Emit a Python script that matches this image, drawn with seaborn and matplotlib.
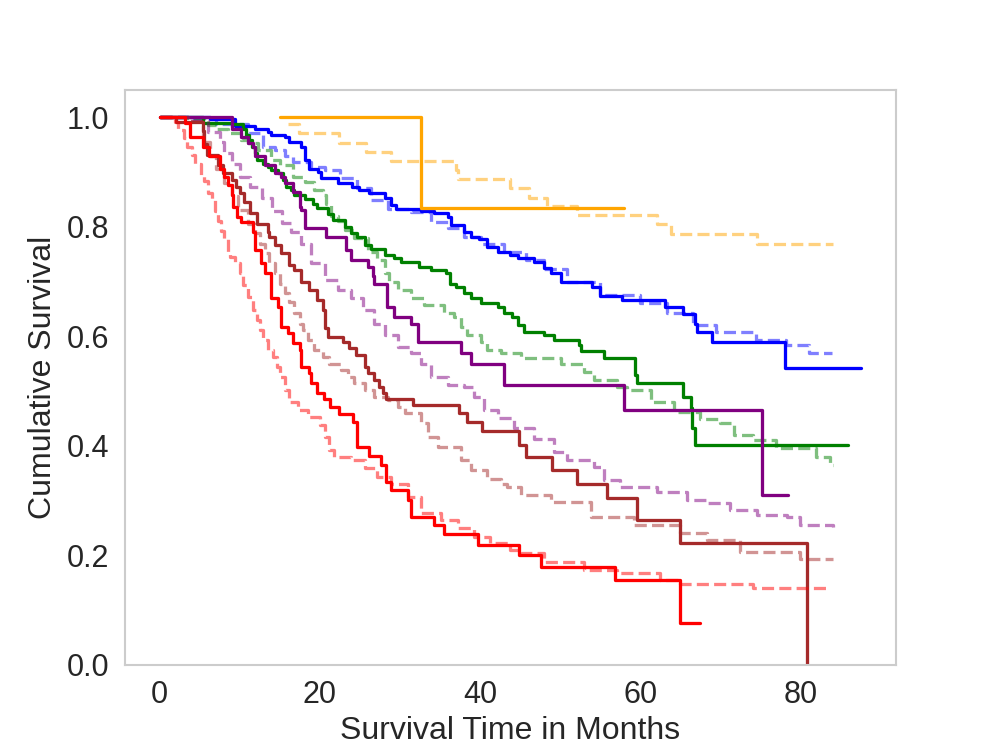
import matplotlib
matplotlib.use("Agg")
import matplotlib.pyplot as plt
import seaborn as sns

# survival curves: (time in months, cumulative survival)
blue_t = [0, 6.3, 9.4, 11.9, 13.5, 13.9, 15.6, 16.2, 17.7, 18.1, 18.7, 19.8, 20.2, 22.3, 24.0, 24.9, 26.2,
          28.1, 28.9, 29.5, 32.6, 34.3, 36.0, 36.4, 38.0, 38.9, 39.9, 40.9, 42.2, 43.8, 44.7, 46.7, 48.0,
          48.8, 50.1, 54.0, 55.0, 57.7, 63.1, 65.4, 66.9, 67.1, 69.0, 78.1, 87.6]
blue_s = [1.0, 0.996, 0.984, 0.979, 0.973, 0.967, 0.964, 0.955, 0.946, 0.921, 0.906, 0.900, 0.888, 0.880,
          0.873, 0.867, 0.861, 0.852, 0.839, 0.833, 0.829, 0.824, 0.818, 0.803, 0.791, 0.781, 0.777, 0.763,
          0.754, 0.748, 0.742, 0.736, 0.724, 0.716, 0.698, 0.689, 0.673, 0.666, 0.654, 0.640, 0.623, 0.608,
          0.590, 0.541, 0.541]
blue_ref_t = [0, 3.6, 7.0, 11.0, 12.9, 14.4, 15.6, 16.6, 18.9, 20.6, 22.5, 24.7, 26.4, 28.5, 31.4, 33.9,
              36.0, 38.0, 40.1, 43.0, 45.7, 48.0, 50.9, 55.0, 60.0, 63.3, 66.6, 69.5, 74.5, 78.2, 81.1, 84.0]
blue_ref_s = [1.0, 0.996, 0.987, 0.970, 0.946, 0.940, 0.928, 0.918, 0.909, 0.903, 0.888, 0.870, 0.848,
              0.833, 0.827, 0.809, 0.797, 0.781, 0.769, 0.754, 0.739, 0.722, 0.699, 0.675, 0.660, 0.642,
              0.620, 0.608, 0.593, 0.584, 0.569, 0.569]

green_t = [0, 5.4, 9.0, 10.4, 10.8, 11.2, 11.5, 11.9, 12.1, 12.9, 13.5, 13.9, 14.8, 15.4, 15.8, 16.4, 16.8,
           18.1, 19.1, 19.6, 21.0, 21.6, 23.1, 23.9, 24.7, 25.6, 26.4, 28.1, 29.3, 30.1, 32.4, 33.9, 35.7,
           36.2, 37.0, 38.0, 38.9, 40.1, 42.2, 43.0, 44.0, 44.7, 45.5, 48.0, 49.2, 52.3, 52.6, 55.5, 59.4,
           59.6, 65.4, 66.3, 66.5, 66.9, 86.0]
green_s = [1.0, 0.990, 0.988, 0.979, 0.967, 0.958, 0.946, 0.934, 0.921, 0.915, 0.909, 0.903, 0.897, 0.885,
           0.873, 0.867, 0.858, 0.850, 0.842, 0.834, 0.823, 0.812, 0.800, 0.788, 0.781, 0.766, 0.760, 0.748,
           0.742, 0.736, 0.727, 0.721, 0.715, 0.696, 0.690, 0.678, 0.669, 0.660, 0.654, 0.642, 0.635, 0.620,
           0.608, 0.602, 0.593, 0.584, 0.572, 0.560, 0.529, 0.514, 0.489, 0.468, 0.432, 0.401, 0.401]
green_ref_t = [0, 3.6, 6.1, 7.1, 8.6, 10.2, 11.0, 12.3, 13.9, 15.0, 16.6, 18.1, 19.3, 20.4, 20.8, 21.4,
               22.3, 23.1, 24.3, 26.0, 27.2, 28.1, 28.7, 29.7, 31.4, 33.0, 35.5, 36.8, 37.6, 38.4, 40.1,
               40.9, 42.6, 45.1, 50.1, 53.0, 54.2, 57.1, 58.4, 61.3, 64.2, 67.5, 70.0, 71.7, 74.1, 77.0,
               82.0, 83.7, 84.1]
green_ref_s = [1.0, 0.998, 0.985, 0.979, 0.970, 0.958, 0.952, 0.940, 0.921, 0.912, 0.891, 0.882, 0.867,
               0.858, 0.842, 0.820, 0.810, 0.794, 0.779, 0.754, 0.739, 0.715, 0.699, 0.684, 0.669, 0.657,
               0.642, 0.635, 0.617, 0.602, 0.590, 0.575, 0.569, 0.560, 0.550, 0.535, 0.520, 0.508, 0.502,
               0.480, 0.462, 0.448, 0.441, 0.419, 0.410, 0.395, 0.380, 0.365, 0.365]

purple_t = [0, 9.0, 10.2, 11.0, 11.7, 11.9, 13.1, 14.4, 15.2, 15.6, 16.6, 17.5, 17.7, 18.1, 20.8, 23.3,
            23.9, 26.0, 26.6, 26.8, 28.4, 29.3, 31.4, 32.3, 37.6, 38.9, 43.0, 58.0, 75.2, 78.5]
purple_s = [1.0, 0.979, 0.964, 0.952, 0.946, 0.928, 0.912, 0.897, 0.891, 0.879, 0.864, 0.836, 0.830, 0.797,
            0.781, 0.757, 0.739, 0.727, 0.709, 0.696, 0.654, 0.635, 0.623, 0.590, 0.569, 0.550, 0.511, 0.465,
            0.310, 0.310]
purple_ref_t = [0, 3.6, 6.1, 7.5, 8.1, 9.0, 10.1, 11.3, 12.8, 14.0, 15.3, 16.4, 17.7, 18.9, 20.6, 22.3,
                23.9, 25.4, 26.8, 28.1, 29.7, 31.4, 32.6, 33.9, 36.0, 38.0, 39.3, 40.5, 42.2, 44.2, 46.7,
                49.2, 50.9, 54.2, 55.5, 57.5, 62.1, 65.8, 68.3, 71.2, 74.6, 78.3, 79.9, 84.1]
purple_ref_s = [1.0, 0.992, 0.973, 0.955, 0.934, 0.915, 0.891, 0.872, 0.852, 0.829, 0.806, 0.791, 0.769,
                0.733, 0.702, 0.685, 0.670, 0.648, 0.623, 0.602, 0.581, 0.569, 0.550, 0.526, 0.511, 0.508,
                0.489, 0.465, 0.450, 0.432, 0.413, 0.389, 0.374, 0.362, 0.337, 0.325, 0.316, 0.301, 0.295,
                0.283, 0.273, 0.270, 0.255, 0.252]

brown_t = [0, 2.1, 5.4, 5.6, 5.9, 7.3, 7.9, 9.0, 9.6, 10.0, 10.6, 11.3, 12.2, 13.5, 13.7, 14.4, 15.2, 16.2,
           16.8, 17.7, 18.7, 19.6, 20.4, 20.6, 21.0, 22.9, 23.7, 24.5, 25.6, 26.0, 26.8, 27.4, 27.9, 28.3,
           31.6, 37.4, 38.4, 40.3, 44.9, 45.7, 49.0, 52.1, 55.9, 59.6, 65.0, 80.8]
brown_s = [1.0, 0.991, 0.975, 0.950, 0.931, 0.912, 0.897, 0.885, 0.873, 0.861, 0.845, 0.825, 0.805, 0.790,
           0.781, 0.766, 0.751, 0.730, 0.721, 0.699, 0.684, 0.666, 0.648, 0.614, 0.599, 0.590, 0.578, 0.566,
           0.544, 0.532, 0.520, 0.508, 0.496, 0.486, 0.474, 0.459, 0.444, 0.426, 0.401, 0.380, 0.356, 0.331,
           0.304, 0.264, 0.222, 0.0]
brown_ref_t = [0, 3.6, 5.4, 6.3, 7.1, 8.1, 9.0, 9.8, 11.0, 11.9, 12.5, 13.1, 13.7, 14.4, 15.0, 15.6, 16.2,
               16.8, 17.5, 17.9, 18.5, 19.3, 20.4, 21.2, 22.7, 23.5, 24.3, 25.6, 26.8, 28.5, 29.7, 30.6,
               32.6, 33.5, 34.7, 37.6, 38.9, 40.9, 42.6, 43.4, 45.1, 48.8, 53.8, 59.2, 65.0, 68.3, 72.5,
               79.9, 84.1]
brown_ref_s = [1.0, 0.992, 0.955, 0.928, 0.906, 0.879, 0.855, 0.830, 0.805, 0.788, 0.769, 0.751, 0.733,
               0.715, 0.696, 0.678, 0.663, 0.642, 0.623, 0.611, 0.593, 0.575, 0.562, 0.550, 0.538, 0.526,
               0.514, 0.502, 0.489, 0.483, 0.471, 0.459, 0.441, 0.416, 0.398, 0.374, 0.356, 0.340, 0.331,
               0.325, 0.310, 0.298, 0.270, 0.255, 0.240, 0.228, 0.206, 0.194, 0.194]

red_t = [0, 3.2, 3.8, 5.4, 6.2, 7.6, 8.0, 8.5, 9.0, 9.2, 9.7, 10.2, 11.7, 11.9, 12.7, 13.1, 13.9, 14.8,
         15.2, 16.0, 16.6, 17.5, 17.7, 18.7, 18.9, 19.6, 20.5, 21.3, 22.4, 24.1, 24.7, 26.2, 27.6, 28.3,
         28.9, 31.0, 31.4, 34.3, 35.5, 39.7, 44.9, 47.6, 56.9, 65.0, 67.5]
red_s = [1.0, 0.990, 0.964, 0.945, 0.928, 0.905, 0.891, 0.876, 0.858, 0.835, 0.818, 0.809, 0.791, 0.757,
         0.733, 0.715, 0.669, 0.654, 0.617, 0.605, 0.587, 0.575, 0.544, 0.532, 0.514, 0.496, 0.485, 0.471,
         0.457, 0.444, 0.398, 0.381, 0.365, 0.334, 0.319, 0.301, 0.270, 0.255, 0.238, 0.219, 0.200, 0.179,
         0.155, 0.077, 0.077]
red_ref_t = [0, 1.9, 2.3, 3.0, 3.4, 4.0, 4.4, 5.2, 5.6, 6.1, 6.5, 6.9, 7.3, 7.7, 8.1, 8.6, 8.8, 9.4, 10.0,
             10.4, 11.0, 11.7, 12.1, 12.5, 12.9, 13.5, 14.2, 14.6, 15.0, 15.6, 16.2, 17.3, 18.5, 20.0,
             20.6, 21.2, 21.8, 23.9, 25.6, 27.2, 28.9, 31.0, 32.6, 35.1, 37.2, 39.3, 41.3, 43.8, 45.1,
             48.0, 53.0, 57.1, 62.5, 65.0, 74.1, 83.7]
red_ref_s = [1.0, 0.991, 0.976, 0.961, 0.946, 0.931, 0.915, 0.895, 0.883, 0.862, 0.848, 0.828, 0.810,
             0.792, 0.777, 0.754, 0.745, 0.733, 0.715, 0.693, 0.672, 0.648, 0.629, 0.611, 0.593, 0.575,
             0.562, 0.544, 0.526, 0.502, 0.480, 0.465, 0.453, 0.438, 0.416, 0.392, 0.380, 0.374, 0.359,
             0.343, 0.331, 0.307, 0.277, 0.264, 0.249, 0.234, 0.222, 0.210, 0.204, 0.188, 0.173, 0.167,
             0.155, 0.147, 0.141, 0.141]

orange_t = [15.0, 32.6, 58.0]
orange_s = [1.0, 0.834, 0.834]
orange_ref_t = [16.0, 17.4, 22.4, 25.8, 28.9, 37.0, 37.2, 43.8, 46.1, 48.4, 52.1, 62.1, 63.8, 74.6, 84.1]
orange_ref_s = [0.987, 0.970, 0.952, 0.936, 0.920, 0.903, 0.886, 0.870, 0.853, 0.838, 0.821, 0.804,
                0.786, 0.768, 0.768]

groups = [
    ('blue', blue_t, blue_s, blue_ref_t, blue_ref_s),
    ('green', green_t, green_s, green_ref_t, green_ref_s),
    ('purple', purple_t, purple_s, purple_ref_t, purple_ref_s),
    ('brown', brown_t, brown_s, brown_ref_t, brown_ref_s),
    ('red', red_t, red_s, red_ref_t, red_ref_s),
    ('orange', orange_t, orange_s, orange_ref_t, orange_ref_s),
]

sns.set_style("whitegrid")
plt.rcParams['font.family'] = ['Liberation Sans', 'DejaVu Sans']

fig, ax = plt.subplots(figsize=(9.96, 7.47), dpi=100)
lw = 2.35

for color, t, s, rt, rs in groups:
    # observed curve solid, reference curve dashed and faded
    sns.lineplot(x=t, y=s, ax=ax, color=color, drawstyle='steps-post',
                 estimator=None, sort=False, linewidth=lw)
    sns.lineplot(x=rt, y=rs, ax=ax, color=color, drawstyle='steps-post',
                 estimator=None, sort=False, linewidth=lw, linestyle='--', alpha=0.5)

ax.grid(False)
ax.set_ylim(bottom=0)
ax.set_xticks([0, 20, 40, 60, 80])
ax.set_xlabel('Survival Time in Months', fontsize=23)
ax.set_ylabel('Cumulative Survival', fontsize=23, labelpad=6)
ax.tick_params(axis='both', labelsize=22, length=0, pad=11)
for spine in ax.spines.values():
    spine.set_linewidth(1.5)

fig.savefig('out.png', dpi=100)
